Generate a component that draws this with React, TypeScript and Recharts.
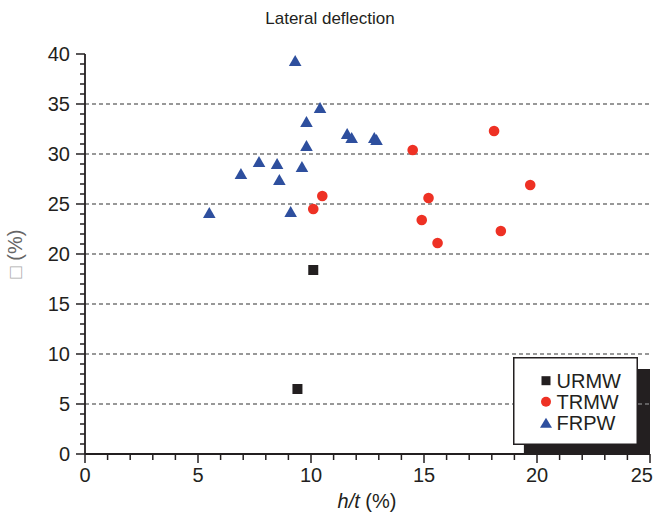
import React from "react";
import {
  ScatterChart,
  Scatter,
  XAxis,
  YAxis,
  ReferenceLine,
  ReferenceArea,
  Legend,
  Label,
} from "recharts";

// ---- data ----
const URMW_HT = [10.1, 9.4];
const URMW_D = [18.4, 6.5];

const TRMW_HT = [14.5, 18.1, 19.7, 15.2, 14.9, 15.6, 18.4, 10.5, 10.1];
const TRMW_D = [30.4, 32.3, 26.9, 25.6, 23.4, 21.1, 22.3, 25.8, 24.5];

const FRPW_HT = [9.3, 10.4, 9.8, 11.6, 11.8, 12.8, 12.9, 9.8, 7.7, 8.5, 9.6, 6.9, 8.6, 5.5, 9.1];
const FRPW_D = [39.3, 34.6, 33.2, 32.0, 31.6, 31.6, 31.4, 30.8, 29.2, 29.0, 28.7, 28.0, 27.4, 24.1, 24.2];

const X_TICKS = Array.from({ length: 26 }, (_, i) => i);
const Y_TICKS = Array.from({ length: 41 }, (_, i) => i);
const GRID_VALUES = [5, 10, 15, 20, 25, 30, 35];
const SERIES_NAMES = ["URMW", "TRMW", "FRPW"];

const toPoints = (xs: number[], ys: number[]) => xs.map((x, i) => ({ x, y: ys[i] }));
const urmw = toPoints(URMW_HT, URMW_D);
const trmw = toPoints(TRMW_HT, TRMW_D);
const frpw = toPoints(FRPW_HT, FRPW_D);

const INK = "#231f20";
const RED = "#ee3124";
const BLUE = "#2e4f9e";
const FONT = "'Liberation Sans', Arial, sans-serif";

const Square = (p: any) => (
  <rect x={p.cx - 5} y={p.cy - 5} width={10} height={10} fill={INK} />
);
const Dot = (p: any) => <circle cx={p.cx} cy={p.cy} r={5.3} fill={RED} />;
const Tri = (p: any) => (
  <polygon
    points={`${p.cx},${p.cy - 6} ${p.cx + 6.3},${p.cy + 5} ${p.cx - 6.3},${p.cy + 5}`}
    fill={BLUE}
  />
);

const XTick = (props: any) => {
  const { x, y, payload } = props;
  const v = payload.value;
  const major = v % 5 === 0;
  const last = v === 25;
  return (
    <g>
      <line x1={x} x2={x} y1={y} y2={y + (major ? 9 : 6)} stroke={INK} strokeWidth={1.5} />
      {major && (
        <text
          x={last ? x + 3 : x}
          y={y + 28}
          textAnchor={last ? "end" : "middle"}
          fontSize={20}
          fontFamily={FONT}
          fill={INK}
        >
          {v}
        </text>
      )}
    </g>
  );
};

const YTick = (props: any) => {
  const { x, y, payload } = props;
  const v = payload.value;
  const major = v % 5 === 0;
  return (
    <g>
      <line x1={x - (major ? 9 : 5)} x2={x} y1={y} y2={y} stroke={INK} strokeWidth={1.5} />
      {major && (
        <text x={x - 15} y={y + 7} textAnchor="end" fontSize={20} fontFamily={FONT} fill={INK}>
          {v}
        </text>
      )}
    </g>
  );
};

const LegendBox = () => {
  const rows = [23.7, 44.7, 65.7];
  return (
    <svg width={125} height={88} style={{ display: "block" }}>
      <rect x={0.75} y={0.75} width={123.5} height={86.5} fill="#fff" stroke={INK} strokeWidth={1.5} />
      <rect x={28.5} y={rows[0] - 4.5} width={9} height={9} fill={INK} />
      <circle cx={33} cy={rows[1]} r={5} fill={RED} />
      <polygon points={`33,${rows[2] - 5} 39,${rows[2] + 5} 27,${rows[2] + 5}`} fill={BLUE} />
      {SERIES_NAMES.map((n, i) => (
        <text key={n} x={43.5} y={rows[i] + 7.5} fontSize={20} fontFamily={FONT} fill={INK}>
          {n}
        </text>
      ))}
    </svg>
  );
};

export default function App() {
  return (
    <div style={{ position: "absolute", left: 0, top: 0, width: 659, height: 521, background: "#fff" }}>
      <ScatterChart width={659} height={521} margin={{ top: 54, right: 9, bottom: 0, left: 0 }}>
        <text x={330} y={24} textAnchor="middle" fontSize={17} fontFamily={FONT} fill={INK}>
          Lateral deflection
        </text>
        {GRID_VALUES.map((v) => (
          <ReferenceLine key={v} y={v} stroke="#777" strokeWidth={1.3} strokeDasharray="4 3" />
        ))}
        <ReferenceArea x1={19.42} x2={25} y1={0} y2={8.5} fill={INK} fillOpacity={1} stroke="none" />
        <XAxis
          type="number"
          dataKey="x"
          domain={[0, 25]}
          ticks={X_TICKS}
          interval={0}
          tickLine={false}
          tickSize={0}
          tickMargin={0}
          tick={<XTick />}
          axisLine={{ stroke: INK, strokeWidth: 1.8 }}
          height={67}
        >
          <Label
            content={() => (
              <text x={367} y={508} textAnchor="middle" fontSize={20} fontFamily={FONT} fill={INK}>
                <tspan fontStyle="italic">h/t</tspan>
                <tspan> (%)</tspan>
              </text>
            )}
          />
        </XAxis>
        <YAxis
          type="number"
          dataKey="y"
          domain={[0, 40]}
          ticks={Y_TICKS}
          interval={0}
          tickLine={false}
          tickSize={0}
          tickMargin={0}
          tick={<YTick />}
          axisLine={{ stroke: INK, strokeWidth: 1.8 }}
          width={85}
        >
          <Label
            content={() => (
              <text
                x={22}
                y={254}
                textAnchor="middle"
                fontSize={20}
                fontFamily={FONT}
                transform="rotate(-90 22 254)"
              >
                <tspan fill="#aaa">□</tspan>
                <tspan fill="#666"> (%)</tspan>
              </text>
            )}
          />
        </YAxis>
        <Scatter name="URMW" data={urmw} shape={Square} isAnimationActive={false} />
        <Scatter name="TRMW" data={trmw} shape={Dot} isAnimationActive={false} />
        <Scatter name="FRPW" data={frpw} shape={Tri} isAnimationActive={false} />
        <Legend
          layout="vertical"
          align="center"
          verticalAlign="middle"
          content={() => <LegendBox />}
          wrapperStyle={{ left: 513, top: 357, right: "auto", bottom: "auto", width: 125, height: 88 }}
        />
      </ScatterChart>
    </div>
  );
}
